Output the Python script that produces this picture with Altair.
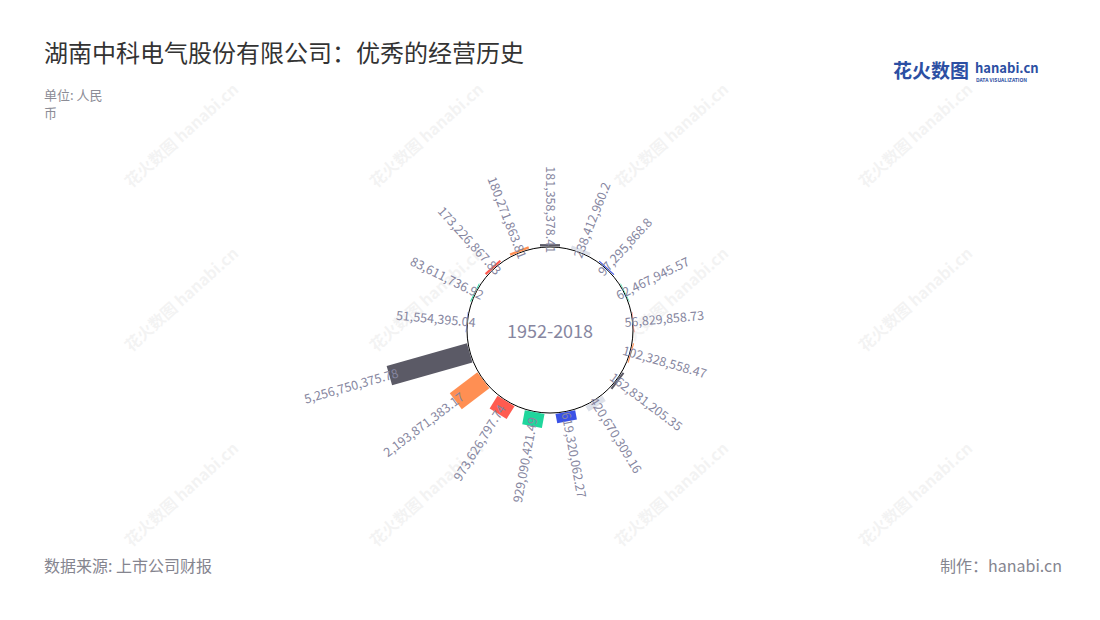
import altair as alt
import pandas as pd

# ---------------- data ----------------
values = [5256750375.78, 2193871383.17, 973626797.74, 929090421.49,
          619320062.27, 420670309.16, 162831205.35, 102328558.47,
          56829858.73, 62467945.57, 97295868.8, 238412960.2,
          181358378.41, 180271863.81, 173226867.83, 83611736.92,
          51554395.04]
labels = [f"{v:,}" for v in values]
center_label = "1952-2018"
title_text = "湖南中科电气股份有限公司：优秀的经营历史"
unit_lines = ["单位: 人民", "币"]
source_text = "数据来源: 上市公司财报"
maker_text = "制作：hanabi.cn"

# ---------------- style ----------------
palette = ["#5b5a66", "#ff8f53", "#ff5b50", "#1fd69c", "#3a52e6", "#dde1ea"]
FONT = "Noto Sans CJK SC"
W, H = 1084, 604
N = len(values)
START_SLOT = 12          # slot that sits at 12 o'clock
R0 = 83                  # inner circle radius (px)
LEN = 84                 # px length of the largest bar
BAR_W = 20
LABEL_BACK = 9
LABEL_COLOR = "#8686a0"

xs = alt.Scale(domain=[-542, 542], nice=False, zero=False)
ys = alt.Scale(domain=[-282, 322], nice=False, zero=False)

df = pd.DataFrame({"value": values, "label": labels})

base = (
    alt.Chart(df)
    .transform_window(idx="row_number()")
    .transform_joinaggregate(maxv="max(value)")
    .transform_calculate(
        theta=f"(({START_SLOT}-(datum.idx-1))*360/{N}+720)%360",
        ci=f"(datum.idx-1)%{len(palette)}",
    )
    .transform_calculate(
        rad="datum.theta*PI/180",
        r1=f"{R0}+datum.value/datum.maxv*{LEN}",
        right="datum.theta>0.5 && datum.theta<180",
    )
    .transform_calculate(
        x0=f"sin(datum.rad)*{R0 + 0.5}",
        y0=f"cos(datum.rad)*{R0 + 0.5}",
        x1="sin(datum.rad)*datum.r1",
        y1="cos(datum.rad)*datum.r1",
        lx=f"sin(datum.rad)*(datum.r1-{LABEL_BACK})",
        ly=f"cos(datum.rad)*(datum.r1-{LABEL_BACK})",
        tangle="datum.right ? (datum.theta+270)%360 : (datum.theta+90)%360",
    )
)

bars = base.mark_rule(strokeWidth=BAR_W, strokeCap="butt").encode(
    x=alt.X("x0:Q", scale=xs, axis=None),
    y=alt.Y("y0:Q", scale=ys, axis=None),
    x2="x1:Q",
    y2="y1:Q",
    color=alt.Color("ci:N", scale=alt.Scale(domain=[0, 1, 2, 3, 4, 5], range=palette), legend=None),
)

def label_layer(right, align):
    return base.transform_filter(
        "datum.right" if right else "!datum.right"
    ).mark_text(
        align=align, baseline="middle", font=FONT, fontSize=12.5, color=LABEL_COLOR
    ).encode(
        x=alt.X("lx:Q", scale=xs, axis=None),
        y=alt.Y("ly:Q", scale=ys, axis=None),
        angle=alt.Angle("tangle:Q", scale=None),
        text="label:N",
    )

one = pd.DataFrame({"t": [center_label]})
circle = alt.Chart(one).mark_point(
    shape="circle", size=(2 * R0) ** 2, filled=True, fill="white",
    stroke="black", strokeWidth=1, opacity=1
).encode(x=alt.X(datum=0, scale=xs, axis=None), y=alt.Y(datum=0, scale=ys, axis=None))

center = alt.Chart(one).mark_text(
    font=FONT, fontSize=18, color=LABEL_COLOR, baseline="middle", align="center", dy=3
).encode(x=alt.X(datum=0, scale=xs, axis=None), y=alt.Y(datum=0, scale=ys, axis=None), text="t:N")

# ---------------- watermarks ----------------
wm_x = [182, 427, 672, 916]
wm_y = [136, 300, 495]
wm = pd.DataFrame([(x - 8, y - 8) for y in wm_y for x in wm_x], columns=["wx", "wy"])
watermark = alt.Chart(wm).mark_text(
    text="花火数图 hanabi.cn", font=FONT, fontSize=16, fontWeight="bold",
    color="#000000", opacity=0.045, angle=318, align="center", baseline="middle"
).encode(x=alt.X("wx:Q", scale=None), y=alt.Y("wy:Q", scale=None))

def txt(text, x, y, size, color, align="left", weight="normal", baseline="middle"):
    return alt.Chart(pd.DataFrame({"t": [text]})).mark_text(
        font=FONT, fontSize=size, color=color, align=align, baseline=baseline,
        fontWeight=weight
    ).encode(x=alt.value(x), y=alt.value(y), text="t:N")

title = txt(title_text, 36, 47, 24, "#333333")
unit1 = txt(unit_lines[0], 36, 88, 13, "#8c8c96")
unit2 = txt(unit_lines[1], 36, 106, 13, "#8c8c96")
source = txt(source_text, 36, 559, 16, "#85858f")
maker = txt(maker_text, 1054, 559, 16, "#85858f", align="right")
logo1 = txt("花火数图", 885, 64, 19, "#2c4fa3", weight="bold")
logo2 = txt("hanabi.cn", 967, 65, 13, "#2c4fa3", weight="bold", baseline="alphabetic")
logo3 = txt("DATA VISUALIZATION", 968, 70, 5, "#2c4fa3", weight="bold", baseline="top")

chart = alt.layer(
    watermark, circle, bars, label_layer(True, "left"), label_layer(False, "right"),
    center, title, unit1, unit2, source, maker, logo1, logo2, logo3
).properties(
    width=W, height=H, autosize="none", padding=0, background="white"
).configure_view(stroke=None)

chart.save("out.html", embed_options={"renderer": "svg", "actions": False})
